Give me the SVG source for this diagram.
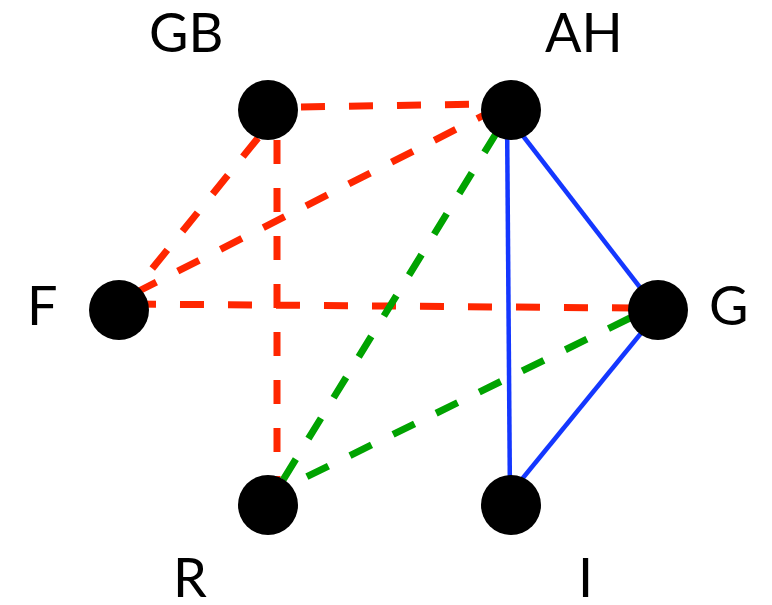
<svg xmlns="http://www.w3.org/2000/svg" width="772" height="605" viewBox="0 0 772 605">
<style>
.e{fill:none;stroke-linecap:butt}
.red{stroke:#ff2600;stroke-width:7;stroke-dasharray:24 24}
.green{stroke:#00a300;stroke-width:7;stroke-dasharray:24 24}
.blue{stroke:#1437ff;stroke-width:4.5}
.n{fill:#000}
.l{font-family:Lato,"Open Sans","Liberation Sans",sans-serif;font-size:54px;fill:#000}
</style>
<rect width="772" height="605" fill="#fff"/>
<g id="connectors">
<line class="e red" x1="301" y1="107" x2="488" y2="104"/>
<line class="e red" x1="258" y1="138" x2="130" y2="296"/>
<line class="e red" x1="277" y1="140" x2="277" y2="478"/>
<line class="e red" x1="135" y1="293" x2="490" y2="112"/>
<line class="e red" x1="132" y1="304" x2="632" y2="308"/>
<line class="e green" x1="497" y1="132" x2="283" y2="480"/>
<line class="e green" x1="630" y1="318" x2="288" y2="486"/>
<line class="e blue" x1="507" y1="112" x2="510" y2="500"/>
<line class="e blue" x1="520" y1="132" x2="642" y2="290"/>
<line class="e blue" x1="642" y1="332" x2="518" y2="484"/>
</g>
<g id="GB"><circle class="n" cx="268" cy="110" r="30"/><text class="l" x="149" y="52">GB</text></g>
<g id="AH"><circle class="n" cx="511" cy="110" r="30"/><text class="l" x="545" y="52">AH</text></g>
<g id="F"><circle class="n" cx="119" cy="310" r="30"/><text class="l" x="27" y="325">F</text></g>
<g id="G"><circle class="n" cx="658" cy="310" r="30"/><text class="l" x="709" y="325">G</text></g>
<g id="R"><circle class="n" cx="268" cy="505" r="30"/><text class="l" x="173" y="597">R</text></g>
<g id="I"><circle class="n" cx="511" cy="505" r="30"/><text class="l" x="578" y="597">I</text></g>
</svg>
